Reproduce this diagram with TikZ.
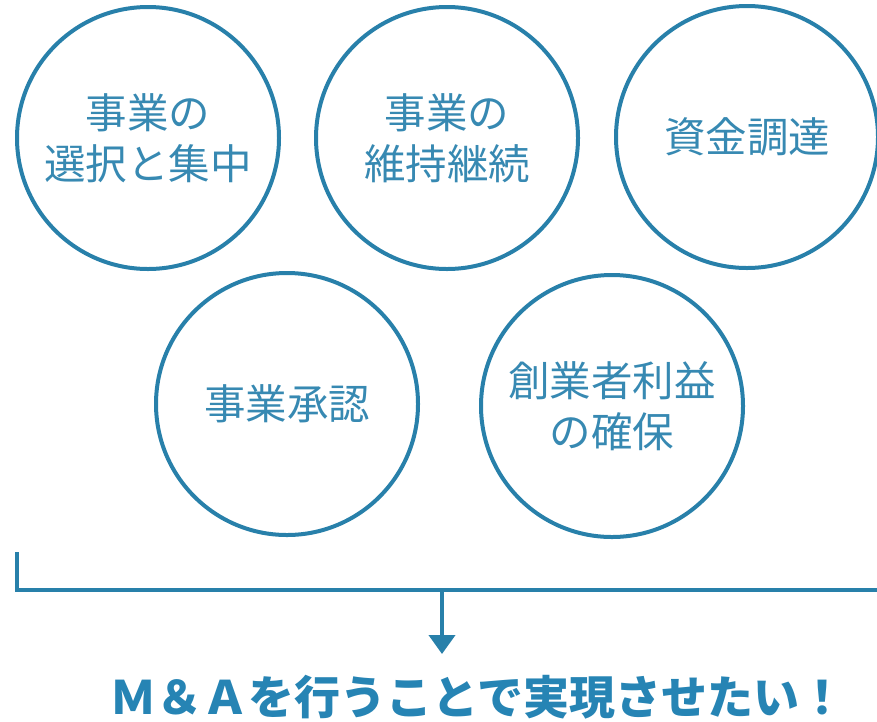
\documentclass[tikz,border=0pt]{standalone}
\usepackage{fontspec}
\newfontfamily\jp{Noto Sans CJK JP}
\usetikzlibrary{arrows.meta}
\definecolor{lineblue}{RGB}{40,128,170}
\definecolor{textblue}{RGB}{55,137,178}
\definecolor{boldblue}{RGB}{38,132,180}
\tikzset{
  bubble/.style={circle, draw=lineblue, line width=4pt, minimum size=262pt, inner sep=0pt,
    text=textblue, align=center, font=\jp\fontsize{41.5}{51}\selectfont},
  bracketline/.style={draw=lineblue, line width=4pt},
}
\begin{document}
\begin{tikzpicture}[x=1pt,y=-1pt]
\useasboundingbox (0,0) rectangle (877,721);
\node[bubble] (c1) at (148,138) {事業の\\選択と集中};
\node[bubble] (c2) at (447,138) {事業の\\維持継続};
\node[bubble] (c3) at (747,137) {資金調達};
\node[bubble] (c4) at (287,404) {事業承認};
\node[bubble] (c5) at (612,406) {創業者利益\\の確保};
\coordinate (bl) at (17,552);
\coordinate (blc) at (17,590);
\coordinate (brc) at (880,590);
\coordinate (br) at (880,552);
\coordinate (am) at (442,590);
\coordinate (tip) at (442,654);
\draw[bracketline] (bl) -- (blc) -- (brc) -- (br);
\node[text=boldblue, font=\jp\bfseries\fontsize{46}{50}\selectfont] (goal) at (478,697) {Ｍ＆Ａを行うことで実現させたい！};
\draw[bracketline, -{Triangle[length=19pt,width=26pt]}] (am) -- (tip);
\end{tikzpicture}
\end{document}
